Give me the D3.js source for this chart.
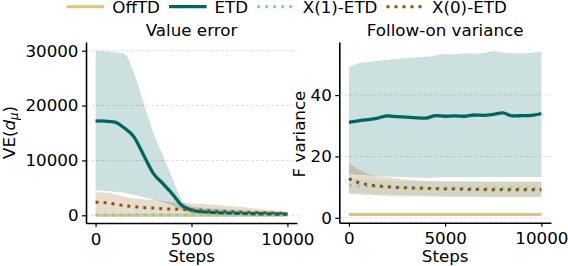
<!DOCTYPE html>
<html>
<head>
<meta charset="utf-8">
<script src="https://cdn.jsdelivr.net/npm/d3@7"></script>
<style>
  body { margin: 0; background: #fff; }
  svg { display: block; font-family: "DejaVu Sans", sans-serif; }
</style>
</head>
<body>
<div id="chart"></div>
<script>
// series names + colours (BrBG)
var seriesNames = ["OffTD", "ETD", "X(1)-ETD", "X(0)-ETD"];
var seriesColors = ["#dfc27d", "#01665e", "#80cdc1", "#8c510a"];

var steps = [0, 500, 1000, 1500, 2000, 2500, 3000, 3500, 4000, 4500, 5000,
             5500, 6000, 6500, 7000, 7500, 8000, 8500, 9000, 9500, 10000];

// ---- Value error panel ----
var veOffMean = [20, 20, 20, 20, 20, 20, 20, 20, 20, 20, 20, 20, 20, 20, 20, 20, 20, 20, 20, 20, 20];
var veOffLow  = [0, 0, 0, 0, 0, 0, 0, 0, 0, 0, 0, 0, 0, 0, 0, 0, 0, 0, 0, 0, 0];
var veOffHigh = [60, 60, 60, 60, 60, 60, 60, 60, 60, 60, 60, 60, 60, 60, 60, 60, 60, 60, 60, 60, 60];

var veEtdMean = [17200, 17150, 17000, 15900, 14300, 11000, 7700, 5800, 3900, 1800, 950,
                 650, 540, 450, 380, 340, 300, 280, 260, 240, 220];
var veEtdLow  = [4500, 4450, 4300, 4100, 3700, 3300, 2900, 2400, 1800, 900, 250,
                 100, 50, 40, 30, 30, 20, 20, 20, 20, 20];
var veEtdHigh = [30000, 29900, 29700, 29400, 26000, 20500, 15200, 11000, 6800, 2800, 1600,
                 1400, 1250, 1150, 1050, 950, 850, 780, 700, 620, 550];

var veX1Mean = [60, 60, 60, 60, 60, 60, 60, 60, 60, 60, 60, 60, 60, 60, 60, 60, 60, 60, 60, 60, 60];
var veX1Low  = [0, 0, 0, 0, 0, 0, 0, 0, 0, 0, 0, 0, 0, 0, 0, 0, 0, 0, 0, 0, 0];
var veX1High = [150, 150, 150, 150, 150, 150, 150, 150, 150, 150, 150, 150, 150, 150, 150, 150, 150, 150, 150, 150, 150];

var veX0Mean = [2400, 2300, 2050, 1760, 1600, 1420, 1320, 1200, 1120, 1060, 1000,
                930, 830, 740, 680, 620, 560, 500, 430, 380, 340];
var veX0Low  = [300, 280, 250, 200, 180, 150, 120, 100, 90, 80, 70,
                60, 60, 50, 50, 50, 40, 40, 40, 40, 40];
var veX0High = [4200, 4150, 3900, 3400, 3100, 2900, 2800, 2600, 2400, 2250, 2150,
                2050, 1950, 1850, 1700, 1550, 1350, 1200, 1000, 850, 700];

// ---- Follow-on variance panel ----
var fvOffMean = [1.1, 1.1, 1.1, 1.1, 1.1, 1.1, 1.1, 1.1, 1.1, 1.1, 1.1, 1.1, 1.1, 1.1, 1.1, 1.1, 1.1, 1.1, 1.1, 1.1, 1.1];
var fvOffLow  = [1.0, 1.0, 1.0, 1.0, 1.0, 1.0, 1.0, 1.0, 1.0, 1.0, 1.0, 1.0, 1.0, 1.0, 1.0, 1.0, 1.0, 1.0, 1.0, 1.0, 1.0];
var fvOffHigh = [1.2, 1.2, 1.2, 1.2, 1.2, 1.2, 1.2, 1.2, 1.2, 1.2, 1.2, 1.2, 1.2, 1.2, 1.2, 1.2, 1.2, 1.2, 1.2, 1.2, 1.2];

var fvEtdMean = [31.1, 31.6, 32.0, 32.5, 33.2, 33.0, 32.8, 32.6, 32.5, 33.3, 33.1,
                 33.2, 33.1, 33.5, 33.4, 33.7, 34.2, 33.2, 33.3, 33.4, 34.0];
var fvEtdLow  = [14.2, 14.0, 13.8, 13.6, 13.5, 13.4, 13.2, 13.1, 13.0, 13.1, 13.2,
                 13.2, 13.3, 13.2, 13.3, 13.3, 13.2, 13.3, 13.3, 13.3, 13.3];
var fvEtdHigh = [49.0, 50.4, 50.8, 51.2, 51.4, 51.8, 52.0, 52.3, 52.5, 52.9, 53.4,
                 53.3, 53.6, 53.5, 53.7, 54.3, 53.9, 53.6, 53.6, 53.8, 54.2];

var fvX1Mean = [10.5, 10.4, 10.3, 10.2, 10.1, 9.9, 9.8, 9.7, 9.7, 9.6, 9.6,
                9.6, 9.6, 9.6, 9.6, 9.6, 9.6, 9.6, 9.6, 9.6, 9.6];
var fvX1Low  = [8.2, 8.0, 7.8, 7.7, 7.6, 7.5, 7.4, 7.3, 7.3, 7.2, 7.2,
                7.1, 7.1, 7.1, 7.0, 7.0, 7.0, 7.0, 7.0, 7.0, 7.0];
var fvX1High = [13.0, 12.8, 12.5, 12.3, 12.2, 12.1, 12.0, 11.9, 11.9, 11.8, 11.8,
                11.8, 11.7, 11.7, 11.7, 11.7, 11.7, 11.7, 11.7, 11.7, 11.7];

var fvX0Mean = [12.8, 11.5, 10.8, 10.4, 10.1, 9.9, 9.8, 9.7, 9.6, 9.5, 9.4,
                9.4, 9.3, 9.2, 9.2, 9.1, 9.2, 9.1, 9.1, 9.1, 9.1];
var fvX0Low  = [7.8, 7.6, 7.4, 7.3, 7.2, 7.1, 7.0, 7.0, 6.9, 6.9, 6.8,
                6.8, 6.8, 6.8, 6.8, 6.7, 6.7, 6.7, 6.7, 6.7, 6.7];
var fvX0High = [17.8, 15.8, 14.3, 13.6, 13.2, 12.8, 12.5, 12.2, 12.0, 12.0, 11.9,
                11.9, 11.9, 11.9, 11.8, 11.8, 11.8, 11.8, 11.8, 11.8, 11.8];

var veTicks = [0, 10000, 20000, 30000];
var fvTicks = [0, 20, 40];
var xTicks = [0, 5000, 10000];

var FONT = 16.7;
var W = 568, H = 266;

var svg = d3.select("#chart")
    .append("svg")
    .attr("width", W)
    .attr("height", H);

function buildSeries(means, lows, highs) {
    return seriesNames.map(function(name, i) {
        return {
            name: name,
            color: seriesColors[i],
            pts: steps.map(function(s, j) {
                return { x: s, m: means[i][j], lo: lows[i][j], hi: highs[i][j] };
            })
        };
    });
}

function dashFor(name) {
    return (name === "X(1)-ETD" || name === "X(0)-ETD") ? "3,5" : null;
}

function drawPanel(cfg) {
    var x = d3.scaleLinear().domain([-500, 10500]).range([cfg.left, cfg.right]);
    var y = d3.scaleLinear().domain(cfg.yDomain).range([cfg.bottom, cfg.top]);

    var g = svg.append("g");

    // grid lines
    g.append("g")
        .selectAll("line")
        .data(cfg.yTicks)
        .enter().append("line")
        .attr("x1", cfg.left)
        .attr("x2", cfg.right)
        .attr("y1", function(d) { return y(d); })
        .attr("y2", function(d) { return y(d); })
        .attr("stroke", "#cfcfcf")
        .attr("stroke-width", 0.7)
        .attr("stroke-dasharray", "3,2");

    var area = d3.area()
        .curve(d3.curveMonotoneX)
        .x(function(d) { return x(d.x); })
        .y0(function(d) { return y(d.lo); })
        .y1(function(d) { return y(d.hi); });

    var line = d3.line()
        .curve(d3.curveMonotoneX)
        .x(function(d) { return x(d.x); })
        .y(function(d) { return y(d.m); });

    // bands first, then the mean lines
    g.append("g")
        .selectAll("path")
        .data(cfg.series)
        .enter().append("path")
        .attr("d", function(d) { return area(d.pts); })
        .attr("fill", function(d) { return d.color; })
        .attr("fill-opacity", 0.2);

    g.append("g")
        .selectAll("path")
        .data(cfg.series)
        .enter().append("path")
        .attr("d", function(d) { return line(d.pts); })
        .attr("fill", "none")
        .attr("stroke", function(d) { return d.color; })
        .attr("stroke-width", function(d) { return d.name === "ETD" ? 3.3 : 3; })
        .attr("stroke-dasharray", function(d) { return dashFor(d.name); });

    // axes (left + bottom spines only)
    var yAxis = g.append("g")
        .attr("transform", "translate(" + cfg.left + ",0)")
        .call(d3.axisLeft(y).tickValues(cfg.yTicks).tickSize(4).tickPadding(3.5).tickSizeOuter(0)
              .tickFormat(d3.format("d")));
    var xAxis = g.append("g")
        .attr("transform", "translate(0," + cfg.bottom + ")")
        .call(d3.axisBottom(x).tickValues(xTicks).tickSize(4).tickSizeOuter(0)
              .tickFormat(d3.format("d")));

    [yAxis, xAxis].forEach(function(a) {
        a.select(".domain").attr("stroke", "#000").attr("stroke-width", 1.6);
        a.selectAll(".tick line").attr("stroke", "#000").attr("stroke-width", 1.2);
        a.selectAll(".tick text")
            .attr("fill", "#000")
            .style("font-family", "DejaVu Sans")
            .style("font-size", FONT + "px");
    });
    // baseline of x tick labels
    xAxis.selectAll(".tick text").attr("y", 21.5).attr("dy", 0);

    // title
    g.append("text")
        .attr("x", (cfg.left + cfg.right) / 2)
        .attr("y", 36)
        .attr("text-anchor", "middle")
        .style("font-size", FONT + "px")
        .text(cfg.title);

    // x label
    g.append("text")
        .attr("x", (cfg.left + cfg.right) / 2)
        .attr("y", 262)
        .attr("text-anchor", "middle")
        .style("font-size", FONT + "px")
        .text("Steps");

    return g;
}

// left panel
drawPanel({
    left: 86, right: 297, top: 42, bottom: 223,
    yDomain: [-1403, 31585],
    yTicks: veTicks,
    title: "Value error",
    series: buildSeries([veOffMean, veEtdMean, veX1Mean, veX0Mean],
                        [veOffLow, veEtdLow, veX1Low, veX0Low],
                        [veOffHigh, veEtdHigh, veX1High, veX0High])
});

// y label with italic d and subscript mu
var yl = svg.append("text")
    .attr("transform", "translate(14.5,132.5) rotate(-90)")
    .attr("text-anchor", "middle")
    .style("font-size", FONT + "px");
yl.append("tspan").text("VE(");
yl.append("tspan").style("font-style", "italic").text("d");
yl.append("tspan").style("font-style", "italic").style("font-size", (FONT * 0.7) + "px")
    .attr("dy", 3).text("\u03bc");
yl.append("tspan").attr("dy", -3).text(")");

// right panel
drawPanel({
    left: 339.3, right: 551, top: 42, bottom: 222.7,
    yDomain: [-1.6, 57.3],
    yTicks: fvTicks,
    title: "Follow-on variance",
    series: buildSeries([fvOffMean, fvEtdMean, fvX1Mean, fvX0Mean],
                        [fvOffLow, fvEtdLow, fvX1Low, fvX0Low],
                        [fvOffHigh, fvEtdHigh, fvX1High, fvX0High])
});

svg.append("text")
    .attr("transform", "translate(305,134) rotate(-90)")
    .attr("text-anchor", "middle")
    .style("font-size", FONT + "px")
    .text("F variance");

// legend along the top
var legend = svg.append("g");
var lx = 66.7;
seriesNames.forEach(function(name, i) {
    legend.append("line")
        .attr("x1", lx).attr("x2", lx + 37.6)
        .attr("y1", 6.7).attr("y2", 6.7)
        .attr("stroke", seriesColors[i])
        .attr("stroke-width", i === 1 ? 3.3 : 3)
        .attr("stroke-dasharray", dashFor(name));
    var t = legend.append("text")
        .attr("x", lx + 37.6 + 8)
        .attr("y", 12.9)
        .style("font-size", FONT + "px")
        .text(name);
    lx = lx + 37.6 + 8 + t.node().getComputedTextLength() + 9;
});
</script>
</body>
</html>
